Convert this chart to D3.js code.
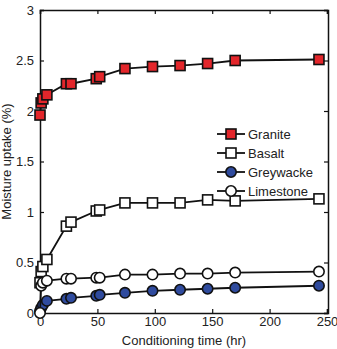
<!DOCTYPE html>
<html>
<head>
<meta charset="utf-8">
<script src="https://cdn.jsdelivr.net/npm/d3@7"></script>
<style>
  body { margin: 0; background: #fff; }
  svg text { font-family: "Liberation Sans", Arial, sans-serif; fill: #222; }
</style>
</head>
<body>
<div id="chart"></div>
<script>
// conditioning times (hr)
var times = [0, 1, 2.5, 6, 23, 27, 49, 52, 74, 98, 122, 146, 170, 243];
var granite   = [1.96, 2.08, 2.12, 2.16, 2.27, 2.27, 2.32, 2.34, 2.42, 2.44, 2.45, 2.47, 2.50, 2.51];
var basalt    = [0.30, 0.41, 0.46, 0.53, 0.86, 0.90, 1.01, 1.02, 1.09, 1.09, 1.09, 1.12, 1.11, 1.13];
var greywacke = [0.02, 0.05, 0.08, 0.12, 0.14, 0.15, 0.17, 0.18, 0.20, 0.22, 0.23, 0.24, 0.25, 0.27];
var limestone = [0.00, 0.27, 0.30, 0.32, 0.34, 0.34, 0.35, 0.35, 0.38, 0.38, 0.39, 0.39, 0.40, 0.41];
var xTicks = [0, 50, 100, 150, 200, 250];
var yTicks = [0, 0.5, 1, 1.5, 2, 2.5, 3];

var series = [
  {name: "Granite",   values: granite,   shape: "square", fill: "#e3262b"},
  {name: "Basalt",    values: basalt,    shape: "square", fill: "#ffffff"},
  {name: "Greywacke", values: greywacke, shape: "circle", fill: "#2f4b9e"},
  {name: "Limestone", values: limestone, shape: "circle", fill: "#ffffff"}
];

var width = 337, height = 349;
var margin = {left: 40, right: 9, top: 10, bottom: 36};
var w = width - margin.left - margin.right;
var h = height - margin.top - margin.bottom;

var svg = d3.select("#chart").append("svg").attr("width", width).attr("height", height);
var g = svg.append("g").attr("transform", "translate(" + margin.left + "," + margin.top + ")");

var x = d3.scaleLinear().domain([0, 250]).range([0, w - 1]);
var y = d3.scaleLinear().domain([0, 3]).range([h, 0]);

// axes, ticks inward on all sides
var fontSize = "13px";
g.append("g").attr("transform", "translate(0," + h + ")")
  .call(d3.axisBottom(x).tickValues(xTicks).tickSize(-4).tickPadding(4).tickFormat(d3.format("d")))
  .call(function(s){ s.selectAll("text").style("font-size", fontSize); });
g.append("g")
  .call(d3.axisTop(x).tickValues(xTicks).tickSize(-4).tickFormat(""));
g.append("g")
  .call(d3.axisLeft(y).tickValues(yTicks).tickSize(-4).tickPadding(6).tickFormat(d3.format("")))
  .call(function(s){ s.selectAll("text").style("font-size", fontSize); });
g.append("g").attr("transform", "translate(" + w + ",0)")
  .call(d3.axisRight(y).tickValues(yTicks).tickSize(-4).tickFormat(""));
g.selectAll(".domain, .tick line").attr("stroke", "#111").attr("stroke-width", 1.2);
g.selectAll(".domain").attr("stroke-width", 1.5);

// axis titles
svg.append("text")
  .attr("x", margin.left + w / 2).attr("y", height - 4)
  .attr("text-anchor", "middle").style("font-size", fontSize)
  .text("Conditioning time (hr)");
svg.append("text")
  .attr("transform", "translate(11," + (margin.top + h / 2) + ") rotate(-90)")
  .attr("text-anchor", "middle").style("font-size", fontSize)
  .text("Moisture uptake (%)");

var line = d3.line().x(function(d){ return x(d[0]); }).y(function(d){ return y(d[1]); });

function drawMarker(sel, s, cx, cy){
  if (s.shape === "square") {
    sel.append("rect").attr("x", cx - 5).attr("y", cy - 5).attr("width", 10).attr("height", 10)
      .attr("fill", s.fill).attr("stroke", "#111").attr("stroke-width", 1.6);
  } else {
    sel.append("circle").attr("cx", cx).attr("cy", cy).attr("r", 5.2)
      .attr("fill", s.fill).attr("stroke", "#111").attr("stroke-width", 1.6);
  }
}

series.forEach(function(s){
  var pts = times.map(function(t, i){ return [t, s.values[i]]; });
  var sg = g.append("g");
  sg.append("path").datum(pts).attr("d", line)
    .attr("fill", "none").attr("stroke", "#111").attr("stroke-width", 1.8);
  pts.forEach(function(p){ drawMarker(sg, s, x(p[0]), y(p[1])); });
});

// legend
var legend = svg.append("g").attr("transform", "translate(217,134)");
series.forEach(function(s, i){
  var lg = legend.append("g").attr("transform", "translate(0," + (i * 19) + ")");
  lg.append("line").attr("x1", 0).attr("x2", 28).attr("y1", 0).attr("y2", 0)
    .attr("stroke", "#111").attr("stroke-width", 1.8);
  drawMarker(lg, s, 14, 0);
  lg.append("text").attr("x", 31).attr("y", 0).attr("dy", "0.35em")
    .style("font-size", fontSize).text(s.name);
});
</script>
</body>
</html>
